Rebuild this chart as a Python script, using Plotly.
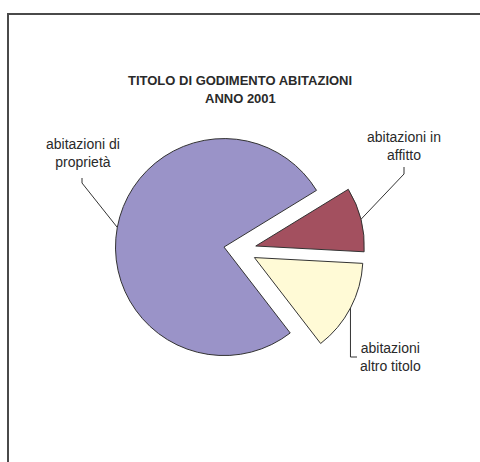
import math
import plotly.graph_objects as go

# ---- data ----
labels = ["abitazioni in affitto", "abitazioni altro titolo", "abitazioni di proprietà"]
label_text = ["abitazioni in<br>affitto", "abitazioni<br>altro titolo", "abitazioni di<br>proprietà"]
values = [9.6, 13.7, 76.7]
colors = ["#A3505F", "#FFFAD6", "#9A93C8"]
title_lines = ["TITOLO DI GODIMENTO ABITAZIONI", "ANNO 2001"]

# ---- layout geometry (pixels) ----
W, H = 480, 462
CX, CY = 240, 250          # pie centre
R = 108.5                  # radius
PULL = 0.15
HALF = R * (1 + PULL)
ROT = 58.5                 # degrees clockwise from 12 o'clock

def px(x):
    return x / W

def py(y):
    return 1 - y / H

fig = go.Figure(go.Pie(
    labels=labels, values=values, sort=False, direction="clockwise",
    rotation=ROT, pull=[PULL] * len(values),
    marker=dict(colors=colors, line=dict(color="#333333", width=1)),
    textinfo="none", hoverinfo="label+percent", showlegend=False,
    domain=dict(x=[px(CX - HALF), px(CX + HALF)], y=[py(CY + HALF), py(CY - HALF)]),
))

# slice mid-angle points on the (pulled) outer arc, from the data
total = sum(values)
cum = 0
edge = []
for v in values:
    a = math.radians(ROT + (cum + v / 2) / total * 360)  # clockwise from top
    edge.append((CX + HALF * math.sin(a), CY - HALF * math.cos(a)))
    cum += v

# label placements and leader-line bends (pixels)
label_pos = [(404, 146), (390, 357), (83, 153)]
bends = [[(404, 167), (404, 174)], [(351, 357)], [(82, 178), (82, 183)]]
bend_end = [None, (357, 357), None]

annotations = []
shapes = []
for i in range(3):
    lx, ly = label_pos[i]
    annotations.append(dict(x=px(lx), y=py(ly), xref="paper", yref="paper",
                            text=label_text[i], showarrow=False,
                            xanchor="center", yanchor="middle", align="center",
                            font=dict(family="Liberation Sans, Arial", size=14, color="#2a2a2a")))
    ex, ey = edge[i]
    if i == 1:
        pts = [(ex, ey), (ex, bends[1][0][1]), bend_end[1]]
    else:
        pts = bends[i] + [(ex, ey)]
    path = "M " + " L ".join(f"{px(x)},{py(y)}" for x, y in pts)
    shapes.append(dict(type="path", xref="paper", yref="paper", path=path,
                       line=dict(color="#333333", width=1)))

title_y = [80, 98]
for t, y in zip(title_lines, title_y):
    annotations.append(dict(x=px(240), y=py(y), xref="paper", yref="paper",
                            text=f"<b>{t}</b>", showarrow=False,
                            xanchor="center", yanchor="middle",
                            font=dict(family="Liberation Sans, Arial", size=13, color="#2a2a2a")))

# chart frame (top and left edges visible; the rest lies outside the window)
frame = f"M {px(8)},{py(H + 10)} L {px(8)},{py(14)} L {px(W + 10)},{py(14)}"
shapes.append(dict(type="path", xref="paper", yref="paper", path=frame,
                   line=dict(color="#4a4a4a", width=2)))

fig.update_layout(
    width=W, height=H, margin=dict(l=0, r=0, t=0, b=0),
    paper_bgcolor="white", plot_bgcolor="white",
    annotations=annotations, shapes=shapes,
)

fig.write_html("out.html", config={"displayModeBar": False})

# remove the default page margin so the figure fills the window exactly
with open("out.html", encoding="utf-8") as f:
    html = f.read()
html = html.replace("<head>", "<head><style>html,body{margin:0;padding:0;overflow:hidden;}</style>", 1)
with open("out.html", "w", encoding="utf-8") as f:
    f.write(html)
